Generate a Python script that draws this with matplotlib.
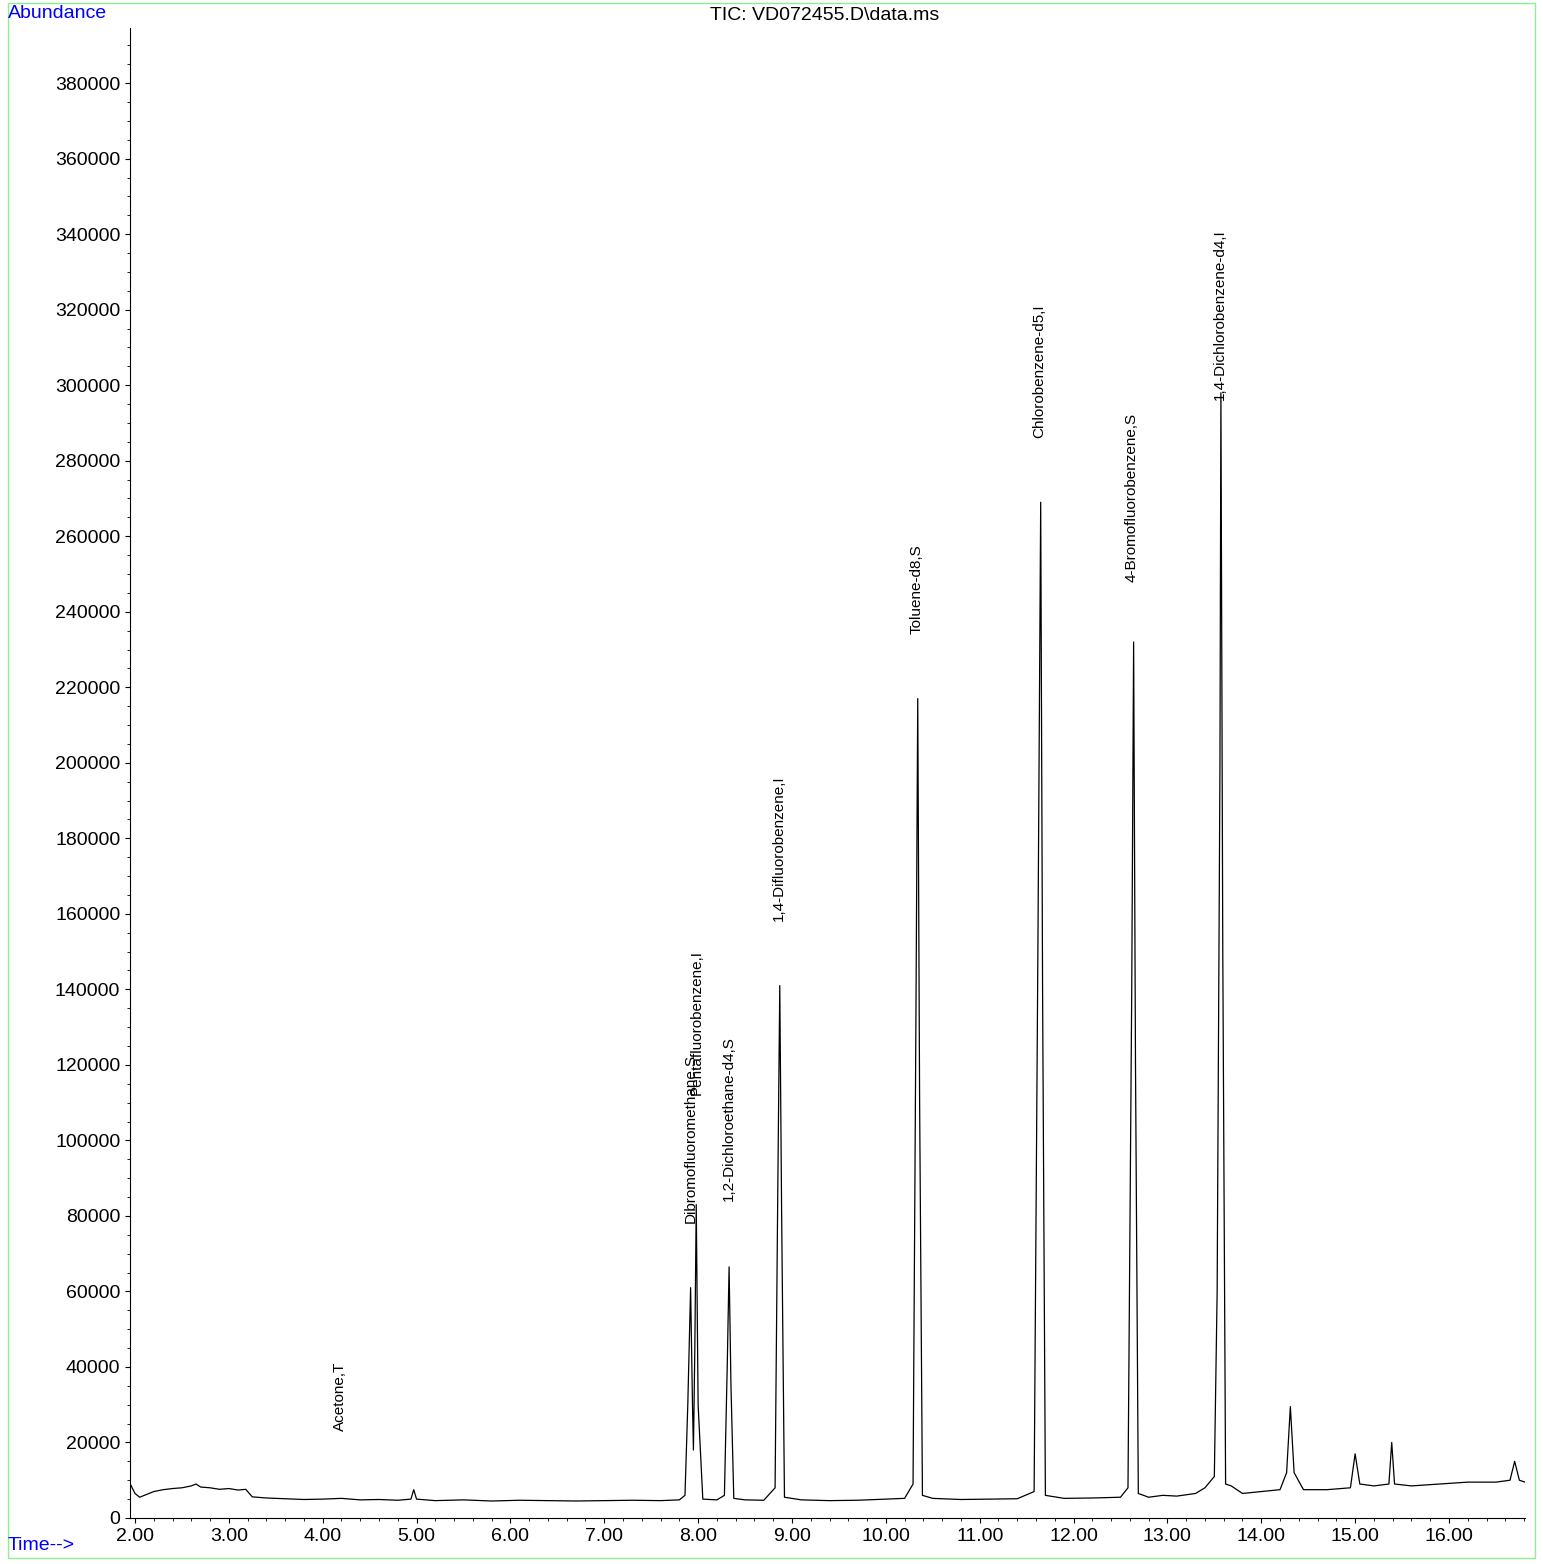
import matplotlib.pyplot as plt
from matplotlib.patches import Rectangle
from matplotlib.ticker import MultipleLocator

plt.rcParams['font.family'] = ['Liberation Sans', 'DejaVu Sans']

# trace vertices (time in min, abundance)
times = [1.95, 2.0, 2.05, 2.1, 2.2, 2.3, 2.4, 2.5, 2.6, 2.65, 2.7, 2.8, 2.9, 3.0, 3.1, 3.18, 3.25,
         3.4, 3.6, 3.8, 4.0, 4.2, 4.4, 4.6, 4.8, 4.94, 4.97, 5.0, 5.2, 5.5, 5.8, 6.1, 6.4, 6.7, 7.0,
         7.3, 7.6, 7.8, 7.86, 7.89, 7.92, 7.94, 7.95, 7.965, 7.98, 8.0, 8.05, 8.2, 8.28, 8.31, 8.33,
         8.35, 8.38, 8.5, 8.7, 8.82, 8.85, 8.87, 8.89, 8.92, 9.1, 9.4, 9.7, 10.0, 10.2, 10.29, 10.32,
         10.34, 10.36, 10.39, 10.5, 10.8, 11.1, 11.4, 11.58, 11.62, 11.65, 11.67, 11.70, 11.9, 12.2,
         12.5, 12.58, 12.62, 12.64, 12.66, 12.69, 12.8, 12.95, 13.1, 13.3, 13.4, 13.5, 13.53, 13.56,
         13.57, 13.59, 13.62, 13.68, 13.8, 14.0, 14.2, 14.27, 14.31, 14.35, 14.45, 14.7, 14.95, 15.0,
         15.05, 15.2, 15.36, 15.39, 15.42, 15.6, 15.9, 16.2, 16.5, 16.65, 16.70, 16.75, 16.81]
abund = [9000, 6500, 5500, 6000, 7000, 7500, 7800, 8000, 8500, 9000, 8200, 8000, 7600, 7800, 7400, 7600, 5600,
         5300, 5100, 4900, 5000, 5200, 4800, 4900, 4700, 5000, 7500, 5000, 4600, 4800, 4500, 4700, 4600, 4500, 4600,
         4700, 4600, 4800, 6000, 30000, 61000, 30000, 18000, 45000, 83000, 30000, 5000, 4800, 6000, 40000, 66500,
         35000, 5200, 4800, 4700, 8000, 90000, 141000, 80000, 5500, 4800, 4600, 4700, 5000, 5200, 9000, 130000,
         217000, 110000, 6000, 5200, 4900, 5000, 5100, 7000, 150000, 269000, 140000, 6000, 5200, 5300,
         5500, 8000, 140000, 232000, 120000, 6500, 5500, 6000, 5800, 6500, 8000, 11000, 60000, 200000,
         298000, 150000, 9000, 8500, 6500, 7000, 7500, 12000, 29500, 12000, 7500, 7500, 8000, 17000,
         9000, 8500, 9000, 20000, 9000, 8500, 9000, 9500, 9500, 10000, 15000, 10000, 9500]

# peak annotations: (label, time, label bottom abundance)
labels = ["Acetone,T", "Dibromofluoromethane,S", "Pentafluorobenzene,I", "1,2-Dichloroethane-d4,S",
          "1,4-Difluorobenzene,I", "Toluene-d8,S", "Chlorobenzene-d5,I", "4-Bromofluorobenzene,S",
          "1,4-Dichlorobenzene-d4,I"]
label_t = [4.18, 7.92, 7.99, 8.33, 8.86, 10.33, 11.63, 12.62, 13.56]
label_y = [23000, 78000, 112000, 84000, 158000, 234000, 286000, 248000, 296000]

fig = plt.figure(figsize=(15.43, 15.64), dpi=100)
ax = fig.add_axes([130 / 1543, 46 / 1564, 1395 / 1543, 1490 / 1564])
fig.patches.append(Rectangle((0.005, 0.004), 0.99, 0.994, transform=fig.transFigure,
                             fill=False, edgecolor='#90ee90', linewidth=1))

ax.plot(times, abund, color='black', linewidth=0.9)
for lab, t, y in zip(labels, label_t, label_y):
    ax.text(t, y, lab, rotation=90, ha='center', va='bottom', fontsize=11)

ax.set_xlim(1.947, 16.81)
ax.set_ylim(0, 394600)
for s in ['top', 'right']:
    ax.spines[s].set_visible(False)
ax.xaxis.set_major_locator(MultipleLocator(1))
ax.xaxis.set_minor_locator(MultipleLocator(0.2))
ax.yaxis.set_major_locator(MultipleLocator(20000))
ax.yaxis.set_minor_locator(MultipleLocator(5000))
ax.xaxis.set_major_formatter(plt.FuncFormatter(lambda v, p: f"{v:.2f}"))
ax.tick_params(labelsize=14, direction='out')
ax.tick_params(which='minor', length=2)

fig.text(8 / 1543, 1 - 13 / 1564, "Abundance", color='blue', fontsize=14, va='center')
fig.text(8 / 1543, 1 - 1546 / 1564, "Time-->", color='blue', fontsize=14, va='center')
fig.text(825 / 1543, 1 - 15 / 1564, "TIC: VD072455.D\\data.ms", fontsize=14, ha='center', va='center')

fig.savefig("out.png", dpi=100)
